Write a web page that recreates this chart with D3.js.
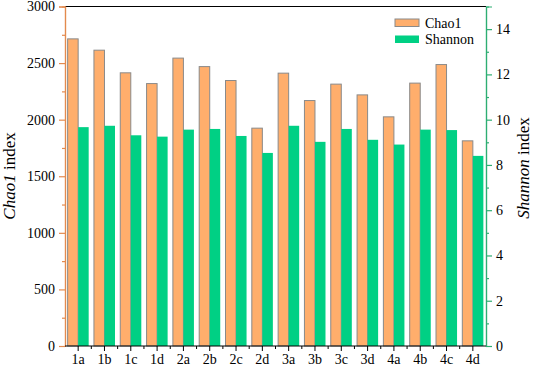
<!DOCTYPE html>
<html>
<head>
<meta charset="utf-8">
<script src="https://cdn.jsdelivr.net/npm/d3@7"></script>
<style>
  body { margin: 0; background: #fff; }
</style>
</head>
<body>
<div id="chart"></div>
<script>
const categories = ["1a","1b","1c","1d","2a","2b","2c","2d","3a","3b","3c","3d","4a","4b","4c","4d"];
const chao1 = [2714, 2614, 2414, 2319, 2544, 2469, 2346, 1925, 2411, 2169, 2314, 2219, 2025, 2323, 2487, 1813];
const shannon = [9.67, 9.73, 9.31, 9.25, 9.56, 9.59, 9.28, 8.53, 9.73, 9.02, 9.59, 9.11, 8.90, 9.56, 9.54, 8.40];
const leftTicks = [0, 500, 1000, 1500, 2000, 2500, 3000];
const rightTicks = [0, 2, 4, 6, 8, 10, 12, 14];

const width = 533, height = 370;
const plotL = 65, plotR = 486, plotT = 6.5, plotB = 346;
const orange = "#FFAE6C", green = "#00D084";
const leftAxisColor = "#E38A4E", rightAxisColor = "#2DAE72";
const serif = "Liberation Serif";

const svg = d3.select("#chart").append("svg")
  .attr("width", width).attr("height", height)
  .attr("font-family", serif);

const x = d3.scaleBand().domain(categories).range([plotL, plotR])
  .paddingInner(0.2).paddingOuter(0.1);
const xSub = d3.scaleBand().domain(["chao1", "shannon"]).range([0, x.bandwidth()]);
const yL = d3.scaleLinear().domain([0, 3000]).range([plotB, plotT]);
const yR = d3.scaleLinear().domain([0, 15]).range([plotB, plotT]);

// bars
svg.append("g").selectAll("rect").data(categories).join("rect")
  .attr("x", d => x(d) + xSub("chao1"))
  .attr("y", (d, i) => yL(chao1[i]))
  .attr("width", xSub.bandwidth())
  .attr("height", (d, i) => plotB - yL(chao1[i]))
  .attr("fill", orange).attr("stroke", "#8a8a8a").attr("stroke-width", 1);

svg.append("g").selectAll("rect").data(categories).join("rect")
  .attr("x", d => x(d) + xSub("shannon"))
  .attr("y", (d, i) => yR(shannon[i]))
  .attr("width", xSub.bandwidth())
  .attr("height", (d, i) => plotB - yR(shannon[i]))
  .attr("fill", green);

// top frame line
svg.append("line").attr("x1", plotL).attr("x2", plotR).attr("y1", plotT).attr("y2", plotT)
  .attr("stroke", "#000").attr("stroke-width", 1.2);

// left axis with minor ticks
const gL = svg.append("g").attr("transform", `translate(${plotL},0)`);
gL.call(d3.axisLeft(yL).tickValues(d3.range(250, 3000, 500)).tickSize(3).tickFormat(""));
const gLMajor = gL.append("g").call(d3.axisLeft(yL).tickValues(leftTicks).tickSize(6).tickPadding(4).tickFormat(d3.format("d")));
gLMajor.attr("font-family", serif).attr("font-size", 14);
gLMajor.selectAll("text").attr("fill", "#000");
gL.selectAll("path, line").attr("stroke", leftAxisColor).attr("stroke-width", 1.2);

// right axis with minor ticks
const gR = svg.append("g").attr("transform", `translate(${plotR},0)`);
gR.call(d3.axisRight(yR).tickValues(d3.range(1, 15, 2)).tickSize(3).tickFormat(""));
const gRMajor = gR.append("g").call(d3.axisRight(yR).tickValues(rightTicks).tickSize(6).tickPadding(4).tickFormat(d3.format("d")));
gRMajor.attr("font-family", serif).attr("font-size", 14);
gRMajor.selectAll("text").attr("fill", "#000");
gR.selectAll("path, line").attr("stroke", rightAxisColor).attr("stroke-width", 1.2);

// bottom axis: major at centers, minor at boundaries
const gB = svg.append("g").attr("transform", `translate(0,${plotB})`);
const xCenter = d3.scalePoint().domain(categories)
  .range([x(categories[0]) + x.bandwidth() / 2, x(categories[categories.length - 1]) + x.bandwidth() / 2]);
gB.append("line").attr("x1", plotL).attr("x2", plotR).attr("stroke", "#000").attr("stroke-width", 1.2);
gB.selectAll("line.minor").data(categories.slice(1)).join("line").attr("class", "minor")
  .attr("x1", d => x(d) - x.step() * x.paddingInner() / 2)
  .attr("x2", d => x(d) - x.step() * x.paddingInner() / 2)
  .attr("y2", 3).attr("stroke", "#000");
gB.selectAll("line.major").data(categories).join("line").attr("class", "major")
  .attr("x1", d => xCenter(d)).attr("x2", d => xCenter(d))
  .attr("y2", 5).attr("stroke", "#000");
gB.selectAll("text").data(categories).join("text")
  .attr("x", d => xCenter(d)).attr("y", 18)
  .attr("text-anchor", "middle").attr("font-size", 14).text(d => d);

// axis titles
const lt = svg.append("text").attr("transform", `translate(15,176) rotate(-90)`)
  .attr("text-anchor", "middle").attr("font-size", 17);
lt.append("tspan").attr("font-style", "italic").text("Chao1");
lt.append("tspan").text(" index");

const rt = svg.append("text").attr("transform", `translate(529,168) rotate(-90)`)
  .attr("text-anchor", "middle").attr("font-size", 17);
rt.append("tspan").attr("font-style", "italic").text("Shannon");
rt.append("tspan").text(" index");

// legend
const legend = [["Chao1", orange, "#8a8a8a"], ["Shannon", green, "none"]];
const lg = svg.append("g").attr("transform", "translate(395,19)");
lg.selectAll("rect").data(legend).join("rect")
  .attr("x", 0).attr("y", (d, i) => i * 16.5).attr("width", 24).attr("height", 7.5)
  .attr("fill", d => d[1]).attr("stroke", d => d[2]);
lg.selectAll("text").data(legend).join("text")
  .attr("x", 30).attr("y", (d, i) => i * 16.5 + 8.5)
  .attr("font-size", 14).text(d => d[0]);
</script>
</body>
</html>
